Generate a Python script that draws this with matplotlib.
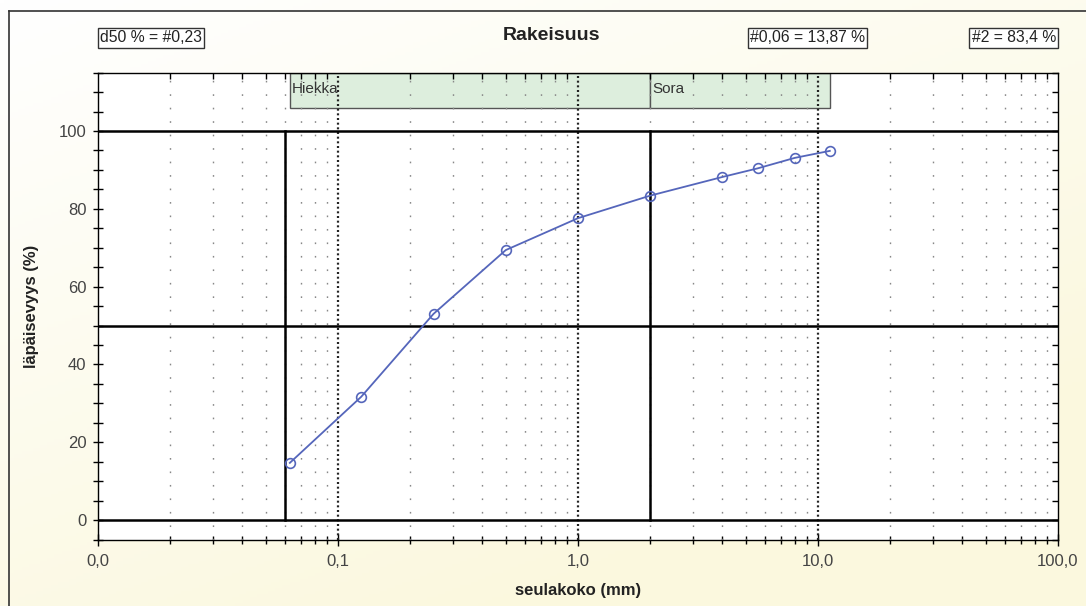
import numpy as np
import matplotlib
matplotlib.use("Agg")
import matplotlib.pyplot as plt
from matplotlib.patches import Rectangle
from matplotlib.lines import Line2D
from matplotlib.ticker import FixedLocator, FuncFormatter, NullFormatter

plt.rcParams['font.family'] = ['Liberation Sans', 'DejaVu Sans']

# ---- data ----
sieve_mm = [0.063, 0.125, 0.25, 0.5, 1.0, 2.0, 4.0, 5.6, 8.0, 11.2]
passing_pct = [14.7, 31.7, 53.0, 69.4, 77.6, 83.4, 88.2, 90.4, 93.1, 94.9]
zone_names = ['Hiekka', 'Sora']
zone_edges = [0.063, 2.0, 11.2]
ref_x = [0.06, 2.0]
ref_y = [0, 50, 100]
x_major = [0.01, 0.1, 1, 10, 100]
y_major = [0, 20, 40, 60, 80, 100]
title = 'Rakeisuus'
xlabel = 'seulakoko (mm)'
ylabel = 'läpäisevyys (%)'
info_texts = ['d50 % = #0,23', '#0,06 = 13,87 %', '#2 = 83,4 %']

W, H = 1086, 606
fig = plt.figure(figsize=(W / 100, H / 100), dpi=100)

# gradient background
bg = fig.add_axes([0, 0, 1, 1], zorder=-10)
yy, xx = np.mgrid[0:1:200j, 0:1:300j]
t = np.clip((xx * 0.6 + yy * 0.9) / 1.2, 0, 1)
c0 = np.array([255, 255, 255]) / 255
c1 = np.array([251, 248, 222]) / 255
img = c0[None, None, :] * (1 - t[..., None]) + c1[None, None, :] * t[..., None]
bg.imshow(img, aspect='auto', extent=[0, 1, 0, 1], origin='upper')
bg.set_axis_off()

# border
fig.add_artist(Line2D([8.5 / W, 8.5 / W], [0, 1 - 11 / H], transform=fig.transFigure, color='#333333', lw=1.2))
fig.add_artist(Line2D([8.5 / W, 1], [1 - 11 / H, 1 - 11 / H], transform=fig.transFigure, color='#333333', lw=1.2))

rect = [98 / W, 1 - 539.5 / H, 960 / W, (539.5 - 72.7) / H]
ax = fig.add_axes(rect)
ax.set_facecolor('white')
ax.set_xscale('log')
ax.set_xlim(0.01, 100)
ax.set_ylim(-5, 115)

# zone boxes
for i, name in enumerate(zone_names):
    x0, x1 = zone_edges[i], zone_edges[i + 1]
    ax.add_patch(Rectangle((x0, 106), x1 - x0, 9, facecolor='#ddeedd', edgecolor='#555555', lw=1.0, zorder=1))
    ax.text(x0 * 1.02, 110.7, name, fontsize=11, color='#333333', va='center', ha='left', zorder=5)

# grid lines
minor_x = []
for d in [0.01, 0.1, 1, 10]:
    for k in range(2, 10):
        minor_x.append(d * k)
for xv in minor_x:
    ax.axvline(xv, color='#888888', lw=1.0, dashes=(1.2, 8.5), zorder=2)
for xv in x_major[1:-1]:
    ax.axvline(xv, color='#222222', lw=1.6, dashes=(0.9, 1.2), zorder=2)

for yv in ref_y:
    ax.axhline(yv, color='black', lw=1.8, zorder=3)
for xv in ref_x:
    ax.plot([xv, xv], [0, 100], color='black', lw=1.8, zorder=3)

ax.plot(sieve_mm, passing_pct, color='#5566bb', lw=1.3, marker='o', markersize=7,
        markerfacecolor='none', markeredgecolor='#5566bb', markeredgewidth=1.2, zorder=4)

# ticks (bottom / left)
ax.xaxis.set_major_locator(FixedLocator(x_major))
ax.xaxis.set_minor_locator(FixedLocator(minor_x))
ax.xaxis.set_major_formatter(FuncFormatter(lambda v, p: f"{v:.1f}".replace('.', ',')))
ax.xaxis.set_minor_formatter(NullFormatter())
y_minor = [v for v in range(-5, 116, 5) if v not in y_major]
ax.yaxis.set_major_locator(FixedLocator(y_major))
ax.yaxis.set_minor_locator(FixedLocator(y_minor))

ax.tick_params(axis='x', which='major', direction='inout', length=9, width=1.0, labelsize=12,
               labelcolor='#444444', pad=6, top=False)
ax.tick_params(axis='x', which='minor', direction='inout', length=6, width=1.0, top=False)
ax.tick_params(axis='y', which='both', direction='inout', length=6.5, width=1.0, labelsize=12,
               labelcolor='#444444', pad=5, right=False)
for spine in ax.spines.values():
    spine.set_color('black')
    spine.set_linewidth(1.0)

# top / right inward ticks
tx = ax.twiny()
tx.set_xscale('log')
tx.set_xlim(ax.get_xlim())
tx.xaxis.set_major_locator(FixedLocator(minor_x))
tx.xaxis.set_minor_locator(FixedLocator([]))
tx.xaxis.set_major_formatter(NullFormatter())
tx.tick_params(axis='x', direction='in', length=4, width=1.0)
ty = ax.twinx()
ty.set_ylim(ax.get_ylim())
ty.yaxis.set_major_locator(FixedLocator(list(range(-5, 116, 5))))
ty.yaxis.set_major_formatter(NullFormatter())
ty.tick_params(axis='y', direction='in', length=4, width=1.0)
for a in (tx, ty):
    a.patch.set_visible(False)
    for s in a.spines.values():
        s.set_visible(False)

ax.set_xlabel(xlabel, fontsize=12, fontweight='bold', color='#222222', labelpad=10)
ax.set_ylabel(ylabel, fontsize=12, fontweight='bold', color='#222222', labelpad=14)

fig.text(552 / W, 1 - 36 / H, title, fontsize=14, fontweight='bold', color='#222222', ha='center', va='center')

bbox = dict(boxstyle='square,pad=0.15', facecolor='white', edgecolor='#333333', lw=1.0)
fs_info = 11.3
fig.text(100 / W, 1 - 38 / H, info_texts[0], fontsize=fs_info, color='#222222', ha='left', va='center', bbox=bbox)
fig.text(750 / W, 1 - 38 / H, info_texts[1], fontsize=fs_info, color='#222222', ha='left', va='center', bbox=bbox)
fig.text(1056 / W, 1 - 38 / H, info_texts[2], fontsize=fs_info, color='#222222', ha='right', va='center', bbox=bbox)

fig.savefig('out.png', dpi=100)
